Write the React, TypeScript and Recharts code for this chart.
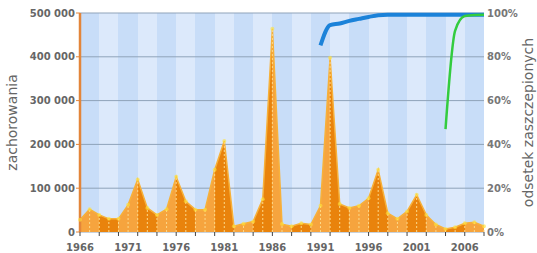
import React from "react";
import {
  ComposedChart,
  Area,
  Line,
  XAxis,
  YAxis,
  CartesianGrid,
  ReferenceLine,
} from "recharts";

const years = [
  1966, 1967, 1968, 1969, 1970, 1971, 1972, 1973, 1974, 1975, 1976, 1977, 1978,
  1979, 1980, 1981, 1982, 1983, 1984, 1985, 1986, 1987, 1988, 1989, 1990, 1991,
  1992, 1993, 1994, 1995, 1996, 1997, 1998, 1999, 2000, 2001, 2002, 2003, 2004,
  2005, 2006, 2007, 2008,
];

// zachorowania (liczba przypadków)
const cases = [
  28000, 52000, 39000, 30000, 30000, 62000, 120000, 55000, 39000, 52000, 126000,
  70000, 51000, 51000, 142000, 208000, 13000, 19000, 24000, 75000, 464000,
  18000, 13000, 20000, 17000, 60000, 398000, 64000, 55000, 60000, 77000, 142000,
  43000, 30000, 47000, 85000, 39000, 17000, 7000, 11000, 20000, 22000, 13000,
];

// odsetek zaszczepionych - pierwsza dawka (od 1991)
const dose1 = [
  null, null, null, null, null, null, null, null, null, null, null, null, null,
  null, null, null, null, null, null, null, null, null, null, null, null, 85.2,
  94.5, 95.2, 96.4, 97.3, 98.2, 99, 99.2, 99.2, 99.2, 99.2, 99.2, 99.2, 99.2,
  99.2, 99.2, 99.2, 99.2,
];

// odsetek zaszczepionych - druga dawka (od 2004)
const dose2 = [
  null, null, null, null, null, null, null, null, null, null, null, null, null,
  null, null, null, null, null, null, null, null, null, null, null, null, null,
  null, null, null, null, null, null, null, null, null, null, null, null, 47,
  92, 98.6, 99.1, 99.2,
];

const leftTicks = [0, 100000, 200000, 300000, 400000, 500000];
const rightTicks = [0, 20, 40, 60, 80, 100];
const labelYears = [1966, 1971, 1976, 1981, 1986, 1991, 1996, 2001, 2006];
const bandYears = years.filter((y) => (y - 1966) % 2 === 0);

const data = years.map((year, i) => ({
  year,
  cases: cases[i],
  dose1: dose1[i],
  dose2: dose2[i],
}));

const FONT = "'DejaVu Sans', Verdana, sans-serif";
const first = years[0];
const span = years[years.length - 1] - first;

const formatThousands = (v: number) =>
  v === 0 ? "0" : `${Math.floor(v / 1000)} ${String(v % 1000).padStart(3, "0")}`;

const YearTick = (props: any) => {
  const { x, y, payload } = props;
  const year = payload.value;
  return (
    <g>
      {(year - first) % 2 === 0 && (
        <line x1={x} x2={x} y1={y} y2={y + 4} stroke="#444" strokeWidth={1} />
      )}
      {labelYears.includes(year) && (
        <text
          x={x}
          y={y + 19}
          textAnchor="middle"
          fontSize={10}
          fontWeight="bold"
          fontFamily={FONT}
          fill="#666"
        >
          {year}
        </text>
      )}
    </g>
  );
};

export default function App() {
  return (
    <div style={{ position: "absolute", left: 0, top: 0, background: "#fff" }}>
      <ComposedChart
        width={537}
        height={253}
        data={data}
        margin={{ top: 13, right: 0, bottom: 0, left: 0 }}
      >
        <defs>
          <linearGradient id="orangeBands" x1="0" y1="0" x2="1" y2="0">
            {bandYears.flatMap((y, i) => {
              const c = i % 2 === 0 ? "#f6a43e" : "#e9830c";
              const a = (y - first) / span;
              const b = Math.min(1, (y + 2 - first) / span);
              return [
                <stop key={`a${y}`} offset={a} stopColor={c} />,
                <stop key={`b${y}`} offset={b} stopColor={c} />,
              ];
            })}
          </linearGradient>
        </defs>
        <CartesianGrid
          yAxisId="left"
          horizontal={false}
          verticalValues={bandYears}
          verticalFill={["#c8ddf8", "#dce9fb"]}
          stroke="transparent"
        />
        <CartesianGrid
          yAxisId="left"
          vertical={false}
          stroke="#8fa3b9"
          strokeWidth={1}
        />
        <XAxis
          dataKey="year"
          type="number"
          domain={[first, years[years.length - 1]]}
          ticks={years}
          interval={0}
          height={21}
          tickSize={0}
          tickMargin={0}
          axisLine={false}
          tick={<YearTick />}
        />
        <YAxis
          yAxisId="left"
          width={80}
          domain={[0, 500000]}
          ticks={leftTicks}
          tickFormatter={formatThousands}
          tickSize={4}
          tickMargin={1}
          axisLine={{ stroke: "#e3853a", strokeWidth: 2.5 }}
          tickLine={{ stroke: "#e3853a" }}
          tick={{ fontSize: 10, fontWeight: "bold", fill: "#666", fontFamily: FONT }}
          label={{
            value: "zachorowania",
            angle: -90,
            position: "insideLeft",
            offset: 12,
            style: { textAnchor: "middle", fontSize: 14, fill: "#666", fontFamily: FONT },
          }}
        />
        <YAxis
          yAxisId="right"
          orientation="right"
          width={53}
          domain={[0, 100]}
          ticks={rightTicks}
          tickFormatter={(v) => `${v}%`}
          tickSize={0}
          tickMargin={3}
          axisLine={false}
          tickLine={false}
          tick={{ fontSize: 10, fontWeight: "bold", fill: "#777", fontFamily: FONT }}
          label={{
            value: "odsetek zaszczepionych",
            angle: -90,
            position: "insideRight",
            offset: 9,
            style: { textAnchor: "middle", fontSize: 14, fill: "#666", fontFamily: FONT },
          }}
        />
        <Area
          yAxisId="left"
          type="linear"
          dataKey="cases"
          stroke="#f7b13a"
          strokeWidth={1.5}
          fill="url(#orangeBands)"
          fillOpacity={1}
          dot={false}
          activeDot={false}
          isAnimationActive={false}
        />
        {years.map((year, i) => (
          <ReferenceLine
            key={year}
            yAxisId="left"
            segment={[
              { x: year, y: 0 },
              { x: year, y: cases[i] },
            ]}
            stroke="#fcd98a"
            strokeDasharray="2 2"
            strokeWidth={1}
          />
        ))}
        <Area
          yAxisId="left"
          type="linear"
          dataKey="cases"
          stroke="none"
          fill="none"
          dot={{ r: 2, fill: "#ffe23a", stroke: "none" }}
          activeDot={false}
          isAnimationActive={false}
        />
        <Line
          yAxisId="right"
          type="monotone"
          dataKey="dose1"
          stroke="#1b82d9"
          strokeWidth={4}
          dot={false}
          activeDot={false}
          isAnimationActive={false}
        />
        <Line
          yAxisId="right"
          type="monotone"
          dataKey="dose2"
          stroke="#33cc3f"
          strokeWidth={2.5}
          dot={false}
          activeDot={false}
          isAnimationActive={false}
        />
      </ComposedChart>
    </div>
  );
}
